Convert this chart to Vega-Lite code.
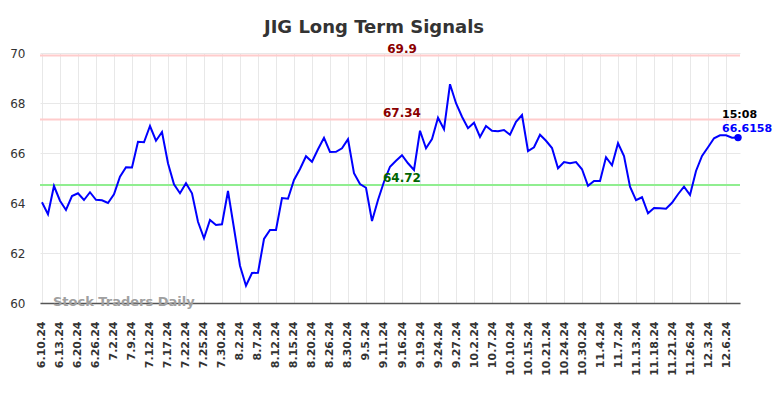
{
  "$schema": "https://vega.github.io/schema/vega-lite/v6.json",
  "autosize": "none",
  "padding": {"left": 40, "top": 53, "right": 44, "bottom": 95},
  "width": 700,
  "height": 250,
  "background": "white",
  "title": {
    "text": "JIG Long Term Signals",
    "fontSize": 18,
    "fontWeight": "bold",
    "font": "DejaVu Sans",
    "color": "#333333",
    "anchor": "middle",
    "frame": "group",
    "baseline": "alphabetic",
    "offset": 21,
    "dx": -16,
    "dy": 29
  },
  "config": {
    "view": {"stroke": null},
    "font": "DejaVu Sans",
    "axis": {"gridColor": "#e8e8e8", "gridWidth": 1}
  },
  "datasets": {
    "prices": [
      {"date": "6.10.24", "value": 64.03}, {"date": "6.11.24", "value": 63.55}, {"date": "6.12.24", "value": 64.68},
      {"date": "6.13.24", "value": 64.09}, {"date": "6.14.24", "value": 63.72}, {"date": "6.17.24", "value": 64.28},
      {"date": "6.20.24", "value": 64.39}, {"date": "6.21.24", "value": 64.12}, {"date": "6.24.24", "value": 64.43},
      {"date": "6.26.24", "value": 64.13}, {"date": "6.27.24", "value": 64.11}, {"date": "6.28.24", "value": 64.0},
      {"date": "7.2.24", "value": 64.35}, {"date": "7.3.24", "value": 65.05}, {"date": "7.5.24", "value": 65.43},
      {"date": "7.9.24", "value": 65.42}, {"date": "7.10.24", "value": 66.45}, {"date": "7.11.24", "value": 66.43},
      {"date": "7.12.24", "value": 67.08}, {"date": "7.15.24", "value": 66.49}, {"date": "7.16.24", "value": 66.84},
      {"date": "7.17.24", "value": 65.59}, {"date": "7.18.24", "value": 64.75}, {"date": "7.19.24", "value": 64.39},
      {"date": "7.22.24", "value": 64.79}, {"date": "7.23.24", "value": 64.39}, {"date": "7.24.24", "value": 63.25},
      {"date": "7.25.24", "value": 62.59}, {"date": "7.26.24", "value": 63.32}, {"date": "7.29.24", "value": 63.12},
      {"date": "7.30.24", "value": 63.15}, {"date": "7.31.24", "value": 64.48}, {"date": "8.1.24", "value": 62.99},
      {"date": "8.2.24", "value": 61.49}, {"date": "8.5.24", "value": 60.69}, {"date": "8.6.24", "value": 61.2},
      {"date": "8.7.24", "value": 61.21}, {"date": "8.8.24", "value": 62.56}, {"date": "8.9.24", "value": 62.92},
      {"date": "8.12.24", "value": 62.92}, {"date": "8.13.24", "value": 64.2}, {"date": "8.14.24", "value": 64.17},
      {"date": "8.15.24", "value": 64.92}, {"date": "8.16.24", "value": 65.36}, {"date": "8.19.24", "value": 65.87},
      {"date": "8.20.24", "value": 65.65}, {"date": "8.21.24", "value": 66.15}, {"date": "8.22.24", "value": 66.61},
      {"date": "8.26.24", "value": 66.04}, {"date": "8.27.24", "value": 66.05}, {"date": "8.28.24", "value": 66.19},
      {"date": "8.30.24", "value": 66.55}, {"date": "9.3.24", "value": 65.19}, {"date": "9.4.24", "value": 64.76},
      {"date": "9.5.24", "value": 64.61}, {"date": "9.6.24", "value": 63.28}, {"date": "9.9.24", "value": 64.12},
      {"date": "9.11.24", "value": 64.85}, {"date": "9.12.24", "value": 65.45}, {"date": "9.13.24", "value": 65.69},
      {"date": "9.16.24", "value": 65.91}, {"date": "9.17.24", "value": 65.59}, {"date": "9.18.24", "value": 65.32},
      {"date": "9.19.24", "value": 66.89}, {"date": "9.20.24", "value": 66.19}, {"date": "9.23.24", "value": 66.56},
      {"date": "9.24.24", "value": 67.41}, {"date": "9.25.24", "value": 66.95}, {"date": "9.26.24", "value": 68.75},
      {"date": "9.27.24", "value": 67.99}, {"date": "9.30.24", "value": 67.45}, {"date": "10.1.24", "value": 66.99},
      {"date": "10.2.24", "value": 67.21}, {"date": "10.3.24", "value": 66.64}, {"date": "10.4.24", "value": 67.08},
      {"date": "10.7.24", "value": 66.89}, {"date": "10.8.24", "value": 66.87}, {"date": "10.9.24", "value": 66.92},
      {"date": "10.10.24", "value": 66.73}, {"date": "10.11.24", "value": 67.25}, {"date": "10.14.24", "value": 67.52},
      {"date": "10.15.24", "value": 66.08}, {"date": "10.16.24", "value": 66.23}, {"date": "10.17.24", "value": 66.73},
      {"date": "10.21.24", "value": 66.49}, {"date": "10.22.24", "value": 66.2}, {"date": "10.23.24", "value": 65.39},
      {"date": "10.24.24", "value": 65.64}, {"date": "10.25.24", "value": 65.59}, {"date": "10.28.24", "value": 65.64},
      {"date": "10.30.24", "value": 65.35}, {"date": "10.31.24", "value": 64.69}, {"date": "11.1.24", "value": 64.88},
      {"date": "11.4.24", "value": 64.88}, {"date": "11.5.24", "value": 65.83}, {"date": "11.6.24", "value": 65.51},
      {"date": "11.7.24", "value": 66.39}, {"date": "11.8.24", "value": 65.88}, {"date": "11.11.24", "value": 64.65},
      {"date": "11.13.24", "value": 64.11}, {"date": "11.14.24", "value": 64.23}, {"date": "11.15.24", "value": 63.59},
      {"date": "11.18.24", "value": 63.8}, {"date": "11.19.24", "value": 63.79}, {"date": "11.20.24", "value": 63.77},
      {"date": "11.21.24", "value": 64.01}, {"date": "11.22.24", "value": 64.35}, {"date": "11.25.24", "value": 64.65},
      {"date": "11.26.24", "value": 64.32}, {"date": "11.27.24", "value": 65.28}, {"date": "11.29.24", "value": 65.88},
      {"date": "12.3.24", "value": 66.23}, {"date": "12.4.24", "value": 66.59}, {"date": "12.5.24", "value": 66.71},
      {"date": "12.6.24", "value": 66.71}, {"date": "12.9.24", "value": 66.61}, {"date": "12.10.24", "value": 66.6158}
    ],
    "levels": [
      {"date": "9.16.24", "level": 69.9, "kind": "resistance"},
      {"date": "9.16.24", "level": 67.34, "kind": "resistance"},
      {"date": "9.16.24", "level": 64.72, "kind": "support"}
    ],
    "last": [{"date": "12.10.24", "value": 66.6158, "time": "15:08"}],
    "mark": [{"date": "6.12.24", "value": 60, "label": "Stock Traders Daily"}]
  },
  "layer": [
    {
      "data": {"name": "levels"},
      "transform": [{"filter": "datum.kind === 'resistance'"}],
      "mark": {"type": "rule", "color": "#ffcccc", "strokeWidth": 2},
      "encoding": {"y": {"field": "level", "type": "quantitative"}}
    },
    {
      "data": {"name": "levels"},
      "transform": [{"filter": "datum.kind === 'support'"}],
      "mark": {"type": "rule", "color": "#90ee90", "strokeWidth": 2},
      "encoding": {"y": {"field": "level", "type": "quantitative"}}
    },
    {
      "data": {"name": "prices"},
      "mark": {"type": "line", "color": "#0000ff", "strokeWidth": 2},
      "encoding": {
        "x": {
          "field": "date", "type": "ordinal", "sort": null,
          "scale": {"type": "point", "padding": 0.33},
          "axis": {
            "title": null,
            "values": ["6.10.24","6.13.24","6.20.24","6.26.24","7.2.24","7.9.24","7.12.24","7.17.24","7.22.24","7.25.24","7.30.24","8.2.24","8.7.24","8.12.24","8.15.24","8.20.24","8.26.24","8.30.24","9.5.24","9.11.24","9.16.24","9.19.24","9.24.24","9.27.24","10.2.24","10.7.24","10.10.24","10.15.24","10.21.24","10.24.24","10.30.24","11.4.24","11.7.24","11.13.24","11.18.24","11.21.24","11.26.24","12.3.24","12.6.24"],
            "labelAngle": -90,
            "labelFontSize": 11,
            "labelFontWeight": "bold",
            "labelColor": "#333333",
            "labelPadding": 18,
            "ticks": false,
            "domainColor": "#555555",
            "domainWidth": 1.5,
            "grid": true
          }
        },
        "y": {
          "field": "value", "type": "quantitative",
          "scale": {"domain": [60, 70], "nice": false, "zero": false},
          "axis": {
            "title": null,
            "values": [60, 62, 64, 66, 68, 70],
            "labelFontSize": 12,
            "labelColor": "#333333",
            "labelPadding": 15,
            "ticks": false,
            "domain": false,
            "grid": true
          }
        }
      }
    },
    {
      "data": {"name": "levels"},
      "transform": [{"filter": "datum.kind === 'resistance'"}],
      "mark": {"type": "text", "color": "#8b0000", "fontSize": 12, "fontWeight": "bold", "baseline": "alphabetic", "dy": -3},
      "encoding": {
        "x": {"field": "date", "type": "ordinal", "sort": null},
        "y": {"field": "level", "type": "quantitative"},
        "text": {"field": "level", "type": "quantitative"}
      }
    },
    {
      "data": {"name": "levels"},
      "transform": [{"filter": "datum.kind === 'support'"}],
      "mark": {"type": "text", "color": "#006400", "fontSize": 12, "fontWeight": "bold", "baseline": "alphabetic", "dy": -3},
      "encoding": {
        "x": {"field": "date", "type": "ordinal", "sort": null},
        "y": {"field": "level", "type": "quantitative"},
        "text": {"field": "level", "type": "quantitative"}
      }
    },
    {
      "data": {"name": "last"},
      "mark": {"type": "point", "filled": true, "color": "#0000ff", "size": 55, "opacity": 1},
      "encoding": {
        "x": {"field": "date", "type": "ordinal", "sort": null},
        "y": {"field": "value", "type": "quantitative"}
      }
    },
    {
      "data": {"name": "last"},
      "mark": {"type": "text", "color": "#000000", "fontSize": 11, "fontWeight": "bold", "align": "left", "baseline": "alphabetic", "dx": -16, "dy": -20},
      "encoding": {
        "x": {"field": "date", "type": "ordinal", "sort": null},
        "y": {"field": "value", "type": "quantitative"},
        "text": {"field": "time", "type": "nominal"}
      }
    },
    {
      "data": {"name": "last"},
      "mark": {"type": "text", "color": "#0000ff", "fontSize": 11, "fontWeight": "bold", "align": "left", "baseline": "alphabetic", "dx": -16, "dy": -6},
      "encoding": {
        "x": {"field": "date", "type": "ordinal", "sort": null},
        "y": {"field": "value", "type": "quantitative"},
        "text": {"field": "value", "type": "quantitative"}
      }
    },
    {
      "data": {"name": "mark"},
      "mark": {"type": "text", "color": "#a0a0a0", "fontSize": 13, "fontWeight": "bold", "align": "left", "baseline": "middle", "dx": -1, "dy": -1},
      "encoding": {
        "x": {"field": "date", "type": "ordinal", "sort": null},
        "y": {"field": "value", "type": "quantitative"},
        "text": {"field": "label", "type": "nominal"}
      }
    }
  ]
}
